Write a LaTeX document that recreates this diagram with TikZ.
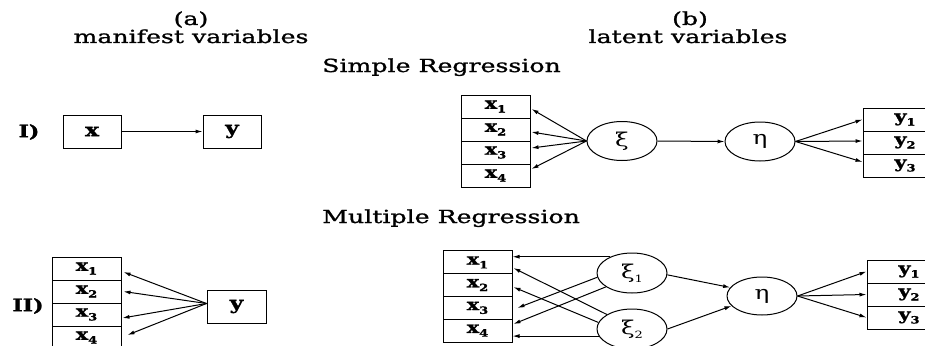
\documentclass[tikz,border=0pt]{standalone}
\usepackage{fontspec}
\usetikzlibrary{arrows.meta,shapes.geometric}
\newfontfamily\hdr[FakeStretch=1.4,FakeBold=1.2]{DejaVu Serif}
\newfontfamily\lab[FakeStretch=1.3]{DejaVu Serif}
\newfontfamily\labb[FakeStretch=1.3,FakeBold=1.5]{DejaVu Serif}
\newcommand\subs[1]{\raisebox{-0.45ex}{\fontsize{10}{10}\selectfont #1}}
\tikzset{
  hdrtext/.style={font=\hdr\fontsize{18}{18}\selectfont, anchor=base, inner sep=0},
  rowlab/.style={font=\labb\bfseries\fontsize{17}{17}\selectfont, inner sep=0},
  bigbox/.style={draw, line width=1pt, minimum width=58pt, minimum height=33pt, inner sep=0, font=\labb\bfseries\fontsize{18}{18}\selectfont},
  cell/.style={draw, line width=1pt, minimum width=69pt, minimum height=23pt, inner sep=0, font=\labb\bfseries\fontsize{16}{16}\selectfont},
  ycell/.style={draw, line width=1pt, minimum width=84pt, minimum height=23pt, inner sep=0, font=\labb\bfseries\fontsize{16}{16}\selectfont},
  latent/.style={draw, ellipse, line width=1pt, minimum width=70pt, minimum height=39pt, inner sep=0, font=\lab\fontsize{19}{19}\selectfont},
  arr/.style={line width=1pt, -{Latex[length=7pt,width=4pt]}}
}
\begin{document}
\begin{tikzpicture}[x=1pt,y=-1pt]
\useasboundingbox (0,0) rectangle (925,345);
% headers
\node[hdrtext] (ha) at (191,25) {(a)};
\node[hdrtext] (hma) at (191,43) {manifest variables};
\node[hdrtext] (hb) at (690,25) {(b)};
\node[hdrtext] (hlv) at (688,43) {latent variables};
\node[hdrtext, anchor=base west] (hsr) at (322,72) {Simple Regression};
\node[hdrtext, anchor=base west] (hmr) at (322,223) {Multiple Regression};
% ---------- Row I manifest
\node[rowlab] (rI) at (29,132) {I)};
\node[bigbox] (bx) at (92,131.5) {x};
\node[bigbox] (by) at (232,131.5) {y};
\draw[arr] (bx.east) -- (by.west);
% ---------- Row I latent
\node[cell] (a1) at (495.5,106.5) {x\subs{1}};
\node[cell] (a2) at (495.5,129.5) {x\subs{2}};
\node[cell] (a3) at (495.5,152.5) {x\subs{3}};
\node[cell] (a4) at (495.5,175.5) {x\subs{4}};
\node[latent] (xi) at (622,141) {ξ};
\node[latent] (eta) at (760,141.5) {η};
\node[ycell] (b1) at (905,119.5) {y\subs{1}};
\node[ycell] (b2) at (905,142.5) {y\subs{2}};
\node[ycell] (b3) at (905,165.5) {y\subs{3}};
\draw[arr] (xi.west) -- ([xshift=1pt,yshift=-2.5pt]a1.east);
\draw[arr] (xi.west) -- ([xshift=1pt,yshift=-2.5pt]a2.east);
\draw[arr] (xi.west) -- ([xshift=1pt,yshift=4.5pt]a3.east);
\draw[arr] (xi.west) -- ([xshift=1pt,yshift=6.5pt]a4.east);
\draw[arr] (xi.east) -- (eta.west);
\draw[arr] (eta.east) -- (b1.west);
\draw[arr] (eta.east) -- ([yshift=1.5pt]b2.west);
\draw[arr] (eta.east) -- ([yshift=3.5pt]b3.west);
% ---------- Row II manifest
\node[rowlab] (rII) at (28,306) {II)};
\node[cell] (c1) at (86.5,268.5) {x\subs{1}};
\node[cell] (c2) at (86.5,291.5) {x\subs{2}};
\node[cell] (c3) at (86.5,314.5) {x\subs{3}};
\node[cell] (c4) at (86.5,337.5) {x\subs{4}};
\node[bigbox, minimum width=59pt] (cy) at (236.5,306.5) {y};
\draw[arr] ([yshift=3pt]cy.west) -- ([xshift=2pt,yshift=-3.5pt]c1.east);
\draw[arr] ([yshift=3pt]cy.west) -- ([xshift=2pt]c2.east);
\draw[arr] ([yshift=3pt]cy.west) -- ([xshift=1pt,yshift=-3.5pt]c3.east);
\draw[arr] ([yshift=3pt]cy.west) -- ([xshift=6pt,yshift=2.5pt]c4.east);
% ---------- Row II latent
\node[cell] (d1) at (477.5,262.4) {x\subs{1}};
\node[cell] (d2) at (477.5,285.1) {x\subs{2}};
\node[cell] (d3) at (477.5,307.9) {x\subs{3}};
\node[cell] (d4) at (477.5,330.6) {x\subs{4}};
\node[latent, minimum height=40pt] (xa) at (632,273) {ξ\subs{1}};
\node[latent, minimum height=40pt] (xb) at (632,329) {ξ\subs{2}};
\node[latent, minimum height=38pt] (et2) at (762,296) {η};
\node[ycell] (e1) at (909,271.5) {y\subs{1}};
\node[ycell] (e2) at (909,294.5) {y\subs{2}};
\node[ycell] (e3) at (909,317.5) {y\subs{3}};
\draw[arr] (xa.143) -- (xa.143 -| d1.east);
\draw[arr] (xa.187) -- ([xshift=5pt]d3.east);
\draw[arr] (xa.208) -- ([xshift=1pt,yshift=6.6pt]d4.east);
\draw[arr] (xb.150) -- ([xshift=1pt,yshift=-5.6pt]d1.east);
\draw[arr] (xb.169) -- ([xshift=1pt,yshift=-2pt]d2.east);
\draw[arr] (xb.192) -- (xb.192 -| d4.east);
\draw[arr] (xa.-3) -- (et2.165);
\draw[arr] (xb.0) -- (et2.198);
\draw[arr] (et2.east) -- (e1.west);
\draw[arr] (et2.east) -- (e2.west);
\draw[arr] (et2.east) -- (e3.west);
\end{tikzpicture}
\end{document}
